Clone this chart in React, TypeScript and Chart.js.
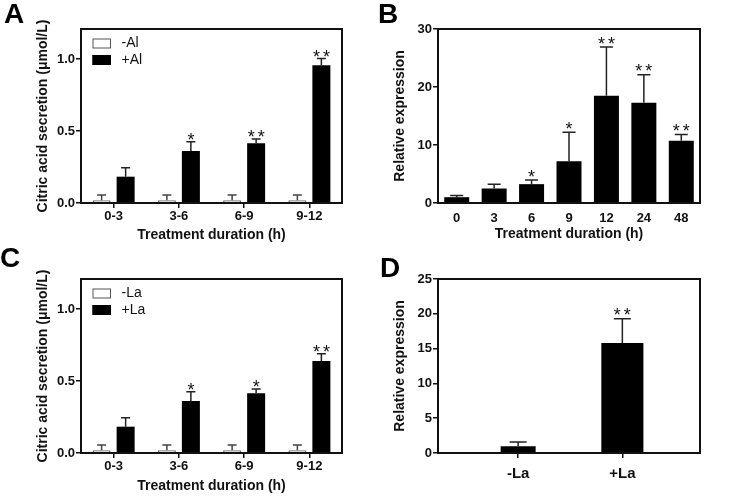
import React, { useEffect, useRef } from 'react';
import { Chart, registerables } from 'chart.js';

Chart.register(...registerables);

const FONT = '"Liberation Sans", Arial, Helvetica, sans-serif';
const INK = '#111';
Chart.defaults.font.family = FONT;
Chart.defaults.color = INK;

// ---------- Panel A: citric acid secretion, Al treatment ----------
const durationCats = ['0-3', '3-6', '6-9', '9-12'];
const minusAlValues = [0.019, 0.019, 0.019, 0.019];
const minusAlErrors = [0.036, 0.036, 0.036, 0.036];
const plusAlValues = [0.183, 0.361, 0.415, 0.958];
const plusAlErrors = [0.062, 0.065, 0.03, 0.047];
const plusAlStars = ['', '*', '**', '**'];

// ---------- Panel C: citric acid secretion, La treatment ----------
const minusLaValues = [0.019, 0.019, 0.019, 0.019];
const minusLaErrors = [0.036, 0.036, 0.036, 0.036];
const plusLaValues = [0.183, 0.361, 0.415, 0.64];
const plusLaErrors = [0.062, 0.065, 0.03, 0.05];
const plusLaStars = ['', '*', '*', '**'];
const citricTicks = [0, 0.5, 1.0];

// ---------- Panel B: relative expression over time ----------
const timeCats = ['0', '3', '6', '9', '12', '24', '48'];
const exprValues = [1.0, 2.5, 3.25, 7.2, 18.5, 17.3, 10.75];
const exprErrors = [0.3, 0.75, 0.7, 5.0, 8.4, 4.8, 1.05];
const exprStars = ['', '', '*', '*', '**', '**', '**'];
const exprTicks = [0, 10, 20, 30];

// ---------- Panel D: relative expression, La ----------
const laCats = ['-La', '+La'];
const laValues = [0.97, 15.8];
const laErrors = [0.62, 3.5];
const laStars = ['', '**'];
const laTicks = [0, 5, 10, 15, 20, 25];

const errorBarPlugin = {
  id: 'errorBars',
  afterDatasetsDraw(chart: any) {
    const { ctx } = chart;
    const yScale = chart.scales.y;
    const o = chart.options.plugins.errorBars || {};
    chart.data.datasets.forEach((ds: any, di: number) => {
      const meta = chart.getDatasetMeta(di);
      meta.data.forEach((el: any, i: number) => {
        const parsed = meta.controller.getParsed(i);
        if (!parsed || parsed.y == null || isNaN(parsed.y)) return;
        const e = ds.errors ? ds.errors[i] || 0 : 0;
        const topPx = yScale.getPixelForValue(parsed.y + e);
        ctx.save();
        ctx.strokeStyle = ds.errorColor || INK;
        ctx.lineWidth = 1.5;
        ctx.beginPath();
        ctx.moveTo(el.x, el.y);
        ctx.lineTo(el.x, topPx);
        ctx.moveTo(el.x - o.cap / 2, topPx);
        ctx.lineTo(el.x + o.cap / 2, topPx);
        ctx.stroke();
        const s = ds.stars ? ds.stars[i] : '';
        if (s) {
          ctx.fillStyle = INK;
          ctx.font = `${o.starSize}px ${FONT}`;
          ctx.textBaseline = 'alphabetic';
          ctx.textAlign = 'left';
          const w1 = ctx.measureText('*').width;
          const ls = o.starSpacing;
          const total = s.length * w1 + (s.length - 1) * ls;
          (ctx as any).letterSpacing = `${ls}px`;
          ctx.fillText(s, el.x - total / 2, topPx - o.starGap + o.starSize * 0.56);
          (ctx as any).letterSpacing = '0px';
        }
        ctx.restore();
      });
    });
  },
};

const framePlugin = {
  id: 'frame',
  afterDraw(chart: any) {
    const { ctx, chartArea: a } = chart;
    ctx.save();
    ctx.strokeStyle = INK;
    ctx.lineWidth = 2;
    ctx.strokeRect(a.left, a.top, a.right - a.left, a.bottom - a.top);
    ctx.restore();
  },
};

const boxLegendPlugin = {
  id: 'boxLegend',
  afterDraw(chart: any) {
    const o = chart.options.plugins.boxLegend;
    if (!o || !o.show) return;
    const { ctx, chartArea: a } = chart;
    chart.data.datasets.forEach((ds: any, i: number) => {
      const x = a.left + o.offsetX;
      const y = a.top + o.offsetY + i * o.rowHeight;
      ctx.save();
      ctx.fillStyle = ds.legendFill;
      ctx.fillRect(x, y, o.boxW, o.boxH);
      ctx.strokeStyle = ds.legendStroke;
      ctx.lineWidth = 1;
      ctx.strokeRect(x + 0.5, y + 0.5, o.boxW - 1, o.boxH - 1);
      ctx.fillStyle = INK;
      ctx.font = `${o.fontSize}px ${FONT}`;
      ctx.textBaseline = 'middle';
      ctx.textAlign = 'left';
      ctx.fillText(ds.label, x + o.boxW + o.gap, y + o.boxH / 2);
      ctx.restore();
    });
  },
};

const tickFont = (size: number) => ({ family: FONT, size, weight: 'bold' as const });

function yAxis(ticksArr: number[], max: number, title: string, titlePad: number, width: number, fmt: (v: number) => string) {
  return {
    type: 'linear',
    min: 0,
    max,
    afterBuildTicks: (s: any) => {
      s.ticks = ticksArr.map((v) => ({ value: v }));
    },
    afterFit: (s: any) => {
      s.width = width;
    },
    grid: { drawOnChartArea: false, drawTicks: true, tickLength: 5, color: INK, lineWidth: 1.5 },
    border: { display: false },
    ticks: { color: INK, font: tickFont(13), padding: 1, callback: (v: any) => fmt(Number(v)) },
    title: {
      display: true,
      text: title,
      color: INK,
      font: { family: FONT, size: 14, weight: 'bold' as const },
      padding: { top: titlePad, bottom: 0 },
    },
  };
}

function citricConfig(
  minusLabel: string, minusVals: number[], minusErr: number[],
  plusLabel: string, plusVals: number[], plusErr: number[], plusStars: string[],
  xHeight: number, titleBottomPad: number
): any {
  const common = { categoryPercentage: 0.736, barPercentage: 0.75 };
  return {
    type: 'bar',
    data: {
      labels: durationCats,
      datasets: [
        {
          label: minusLabel, data: minusVals, errors: minusErr, stars: [],
          backgroundColor: '#d0d0d0', borderColor: '#6f6f6f', borderWidth: 1.5,
          errorColor: '#444', legendFill: '#fff', legendStroke: '#555', ...common,
        },
        {
          label: plusLabel, data: plusVals, errors: plusErr, stars: plusStars,
          backgroundColor: '#000', borderColor: '#000', borderWidth: 0,
          errorColor: '#222', legendFill: '#000', legendStroke: '#000', ...common,
        },
      ],
    },
    options: {
      responsive: false,
      animation: false,
      devicePixelRatio: 1,
      events: [],
      layout: { padding: { left: 0, top: 29, right: 23, bottom: 0 } },
      plugins: {
        legend: { display: false },
        tooltip: { enabled: false },
        errorBars: { cap: 9, starSize: 18, starSpacing: 3, starGap: 6 },
        boxLegend: { show: true, offsetX: 11.5, offsetY: 9.5, rowHeight: 16.5, boxW: 18.5, boxH: 10, gap: 10.5, fontSize: 14 },
      },
      scales: {
        x: {
          type: 'category',
          offset: true,
          afterFit: (s: any) => {
            s.height = xHeight;
          },
          grid: { offset: false, drawOnChartArea: false, drawTicks: true, tickLength: 5, color: INK, lineWidth: 1.5 },
          border: { display: false },
          ticks: { color: INK, font: tickFont(13), padding: 1, maxRotation: 0, autoSkip: false },
          title: {
            display: true,
            text: 'Treatment duration (h)',
            color: INK,
            font: { family: FONT, size: 14, weight: 'bold' },
            padding: { top: 0, bottom: titleBottomPad },
          },
        },
        y: yAxis(citricTicks, 1.21, 'Citric acid secretion (μmol/L)', 34.6, 81, (v) => v.toFixed(1)),
      },
    },
    plugins: [errorBarPlugin, framePlugin, boxLegendPlugin],
  };
}

function configA() {
  return citricConfig('-Al', minusAlValues, minusAlErrors, '+Al', plusAlValues, plusAlErrors, plusAlStars, 47, 6.6);
}
function configC() {
  return citricConfig('-La', minusLaValues, minusLaErrors, '+La', plusLaValues, plusLaErrors, plusLaStars, 44, 2);
}

function configB(): any {
  return {
    type: 'bar',
    data: {
      labels: timeCats,
      datasets: [
        {
          label: 'Relative expression', data: exprValues, errors: exprErrors, stars: exprStars,
          backgroundColor: '#000', borderWidth: 0, errorColor: '#222',
          categoryPercentage: 1, barPercentage: 0.668,
        },
      ],
    },
    options: {
      responsive: false,
      animation: false,
      devicePixelRatio: 1,
      events: [],
      layout: { padding: { left: 0, top: 29, right: 31, bottom: 0 } },
      plugins: {
        legend: { display: false },
        tooltip: { enabled: false },
        errorBars: { cap: 13, starSize: 18, starSpacing: 3, starGap: 7.5 },
      },
      scales: {
        x: {
          type: 'category',
          offset: true,
          afterFit: (s: any) => {
            s.height = 47;
          },
          grid: { display: false, drawTicks: false, drawOnChartArea: false },
          border: { display: false },
          ticks: { color: INK, font: tickFont(13), padding: 8, maxRotation: 0, autoSkip: false },
          title: {
            display: true,
            text: 'Treatment duration (h)',
            color: INK,
            font: { family: FONT, size: 14, weight: 'bold' },
            padding: { top: 0, bottom: 7.3 },
          },
        },
        y: yAxis(exprTicks, 30, 'Relative expression', 26.6, 73, (v) => String(v)),
      },
    },
    plugins: [errorBarPlugin, framePlugin],
  };
}

function configD(): any {
  const barWidthsPct = [0.336, 0.404];
  return {
    type: 'bar',
    data: {
      datasets: laCats.map((c, i) => ({
        label: c,
        data: [{ x: i, y: laValues[i] }],
        errors: [laErrors[i]],
        stars: [laStars[i]],
        backgroundColor: '#000',
        borderWidth: 0,
        errorColor: '#222',
        grouped: false,
        categoryPercentage: 1,
        barPercentage: barWidthsPct[i],
      })),
    },
    options: {
      responsive: false,
      animation: false,
      devicePixelRatio: 1,
      events: [],
      layout: { padding: { left: 0, top: 29, right: 31, bottom: 0 } },
      plugins: {
        legend: { display: false },
        tooltip: { enabled: false },
        errorBars: { cap: 17, starSize: 18, starSpacing: 3, starGap: 8 },
      },
      scales: {
        x: {
          type: 'linear',
          min: -0.769,
          max: 1.745,
          offset: false,
          afterBuildTicks: (s: any) => {
            s.ticks = laCats.map((_, i) => ({ value: i }));
          },
          afterFit: (s: any) => {
            s.height = 44;
          },
          grid: { offset: false, drawOnChartArea: false, drawTicks: true, tickLength: 5, color: INK, lineWidth: 1.5 },
          border: { display: false },
          ticks: {
            color: INK,
            font: tickFont(15),
            padding: 7,
            maxRotation: 0,
            autoSkip: false,
            callback: (v: any) => laCats[Math.round(Number(v))] ?? '',
          },
        },
        y: yAxis(laTicks, 25, 'Relative expression', 26.6, 73, (v) => String(v)),
      },
    },
    plugins: [errorBarPlugin, framePlugin],
  };
}

function ChartCanvas(props: { make: () => any; left: number; top: number; width: number; height: number }) {
  const ref = useRef<HTMLCanvasElement>(null);
  useEffect(() => {
    const chart = new Chart(ref.current as HTMLCanvasElement, props.make());
    return () => chart.destroy();
  }, []);
  return (
    <canvas
      ref={ref}
      width={props.width}
      height={props.height}
      style={{ position: 'absolute', left: props.left, top: props.top, width: props.width, height: props.height }}
    />
  );
}

const letterStyle = (left: number, top: number): React.CSSProperties => ({
  position: 'absolute',
  left,
  top,
  fontFamily: FONT,
  fontWeight: 'bold',
  fontSize: 28,
  lineHeight: '28px',
  color: '#000',
});

export default function App() {
  return (
    <div style={{ position: 'absolute', left: 0, top: 0, width: 731, height: 497, background: '#fff', overflow: 'hidden' }}>
      <ChartCanvas make={configA} left={0} top={0} width={365} height={250} />
      <ChartCanvas make={configB} left={365} top={0} width={366} height={250} />
      <ChartCanvas make={configC} left={0} top={250} width={365} height={247} />
      <ChartCanvas make={configD} left={365} top={250} width={366} height={247} />
      <div style={letterStyle(4, 0)}>A</div>
      <div style={letterStyle(378, 0)}>B</div>
      <div style={letterStyle(0, 244)}>C</div>
      <div style={letterStyle(380, 254)}>D</div>
    </div>
  );
}
